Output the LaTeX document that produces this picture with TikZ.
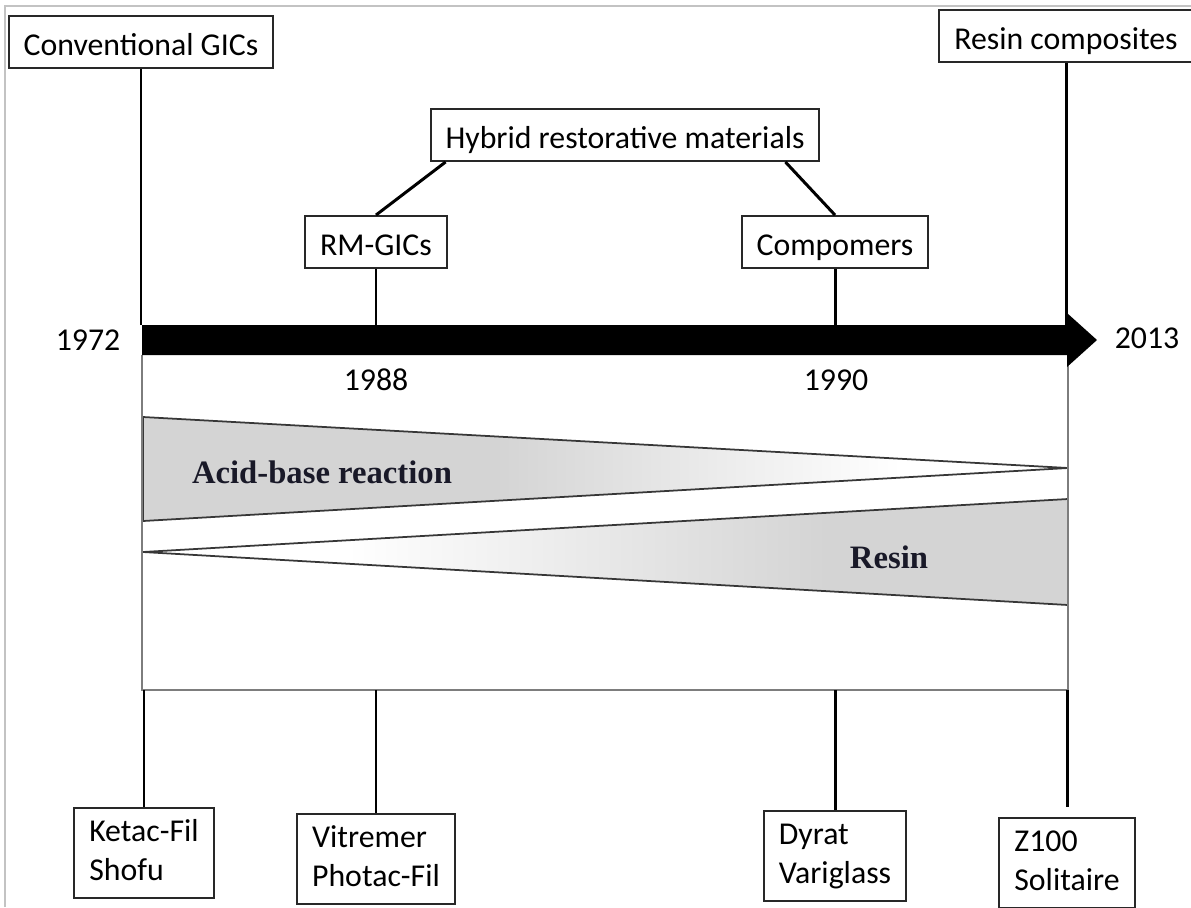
\documentclass[tikz,border=0pt]{standalone}
\usepackage{fontspec}
\setmainfont{Carlito}
\newfontfamily\wedgefont{Liberation Serif}
\usepackage{tikz}
\usetikzlibrary{calc}
\definecolor{boxline}{RGB}{40,40,40}
\definecolor{wedgegray}{RGB}{212,212,212}
\definecolor{wedgeline}{RGB}{55,55,55}
\definecolor{framegray}{RGB}{125,125,125}
\definecolor{pageedge}{RGB}{195,195,195}
\definecolor{wedgeink}{RGB}{25,25,40}
\pgfdeclarehorizontalshading{acidfade}{100bp}{color(0bp)=(wedgegray); color(44bp)=(wedgegray); color(66bp)=(white); color(100bp)=(white)}
\pgfdeclarehorizontalshading{resinfade}{100bp}{color(0bp)=(white); color(36bp)=(white); color(62bp)=(wedgegray); color(100bp)=(wedgegray)}
\tikzset{
  boxbase/.style={
    draw=boxline,
    line width=1.1pt,
    fill=white,
    inner xsep=0.3cm,
    inner ysep=0pt,
    font=\fontsize{18.1}{22}\selectfont
  },
  era/.style={boxbase, minimum height=1.04cm, text height=16pt, text depth=1pt},
  brand/.style={boxbase, align=left, minimum height=1.8cm},
  year/.style={inner sep=0pt, font=\fontsize{18.1}{22}\selectfont},
  stem/.style={line width=1.7pt},
  wedge/.style={draw=wedgeline, line width=1pt},
  wedgelabel/.style={inner sep=0pt, text=wedgeink,
    font=\wedgefont\bfseries\fontsize{18.6}{22}\selectfont}
}

\begin{document}
\begin{tikzpicture}[x=0.02cm, y=-0.02cm]
    \useasboundingbox (0,0) rectangle (1191,907);
    \draw[pageedge, line width=0.8pt] (5,907) -- (5,6) -- (1191,6);

    \node[era] (conv) at (141,42) {Conventional GICs};
    \node[era] (rcomp) at (1066,36) {Resin composites};
    \node[era] (hybrid) at (625,135) {Hybrid restorative materials};
    \node[era] (rmgic) at (376,242) {RM-GICs};
    \node[era] (compo) at (835,242) {Compomers};

    \coordinate (axtop) at (142,325);
    \coordinate (tip) at (1097,340);
    \coordinate (base) at (142,690);

    \shade[wedge, shading=acidfade] (143,417) -- (1068,468) -- (143,521) -- cycle;
    \shade[wedge, shading=resinfade] (143,552) -- (1068,499) -- (1068,605) -- cycle;
    \node[wedgelabel] (acid) at (322,472) {Acid-base reaction};
    \node[wedgelabel] (resin) at (889,557) {Resin};

    \draw[framegray, line width=1.1pt] (142,355) -- (base) -- (1068,690) -- (1068,355);

    \fill (142,325) -- (1067,325) -- (1067,313) -- (tip) -- (1067,367)
      -- (1067,355) -- (142,355) -- cycle;

    \draw[stem] (conv.south) -- (conv.south |- axtop);
    \draw[stem] (rcomp.south) -- (rcomp.south |- axtop);
    \draw[stem] (rmgic.south) -- (rmgic.south |- axtop);
    \draw[stem] (compo.south) -- (compo.south |- axtop);
    \draw[stem] ($(hybrid.south west)+(16,0)$) -- (rmgic.north);
    \draw[stem] ($(hybrid.south east)+(-35,0)$) -- (compo.north);

    \node[year] (y1972) at (88,340) {1972};
    \node[year] (y2013) at (1147,338) {2013};
    \node[year] (y1988) at (376,380) {1988};
    \node[year] (y1990) at (836,380) {1990};

    \node[brand] (ketac) at (144,853) {\strut Ketac-Fil\\\strut Shofu};
    \node[brand] (vitremer) at (376,859) {\strut Vitremer\\\strut Photac-Fil};
    \node[brand] (dyrat) at (835,856) {\strut Dyrat\\\strut Variglass};
    \node[brand] (zhundred) at (1067,863) {\strut Z100\\\strut Solitaire};

    \draw[stem] (ketac.north |- base) -- (ketac.north);
    \draw[stem] (vitremer.north |- base) -- (vitremer.north);
    \draw[stem] (dyrat.north |- base) -- (dyrat.north);
    \draw[stem, shorten >=0.2cm] (zhundred.north |- base) -- (zhundred.north);
\end{tikzpicture}
\end{document}
